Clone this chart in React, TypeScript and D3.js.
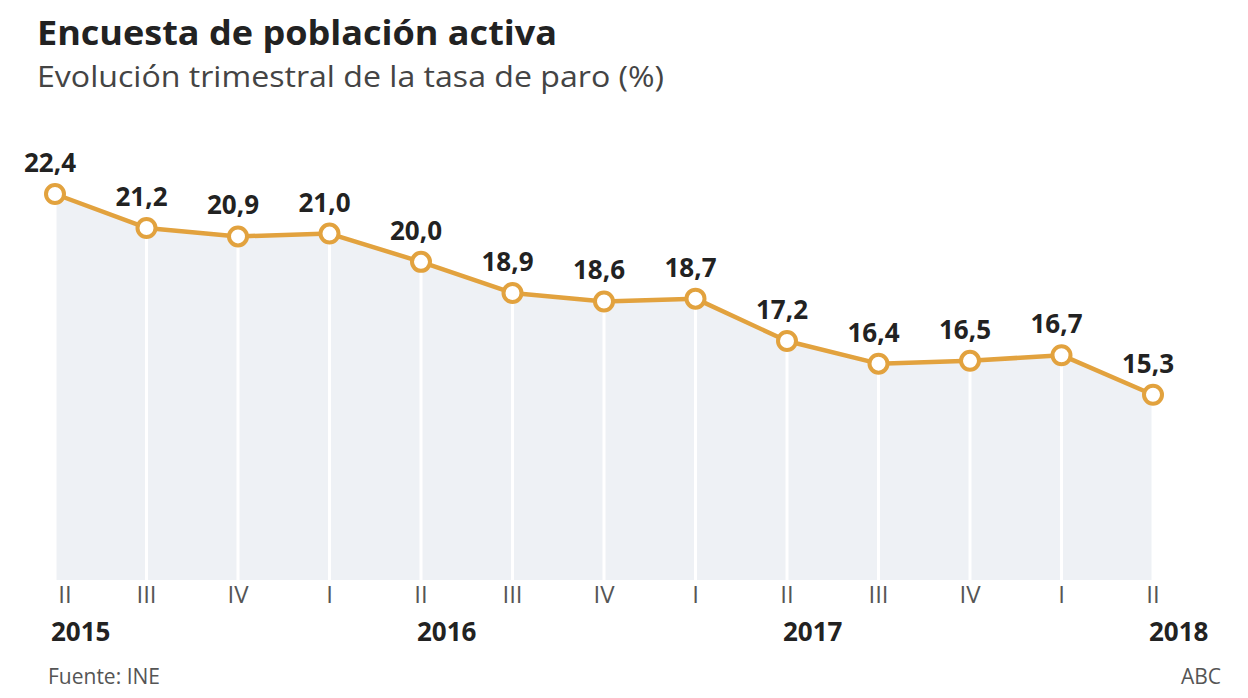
import React from "react";
import * as d3 from "d3";

const quarters = ["II", "III", "IV", "I", "II", "III", "IV", "I", "II", "III", "IV", "I", "II"];
const values = [22.4, 21.2, 20.9, 21.0, 20.0, 18.9, 18.6, 18.7, 17.2, 16.4, 16.5, 16.7, 15.3];
const years = [
  { label: "2015", index: 0 },
  { label: "2016", index: 4 },
  { label: "2017", index: 8 },
  { label: "2018", index: 12 },
];

const W = 1248;
const H = 698;
const FONT = "'Open Sans', 'Noto Sans', sans-serif";
const LINE = "#e2a23e";

export default function App() {
  const x = d3.scaleLinear().domain([0, quarters.length - 1]).range([55, 1153]);
  const y = d3.scaleLinear().domain([8.75, 22.4]).range([580, 194]);
  const data = values.map((v, i) => ({ v, i }));
  const line = d3.line<{ v: number; i: number }>().x((d) => x(d.i)).y((d) => y(d.v));
  const area = d3
    .area<{ v: number; i: number }>()
    .x((d) => x(d.i))
    .y0(y(8.75))
    .y1((d) => y(d.v));
  const fmt = (v: number) => v.toFixed(1).replace(".", ",");

  return (
    <svg width={W} height={H} style={{ position: "absolute", left: 0, top: 0, background: "#fff" }} fontFamily={FONT}>
      <text x={37} y={45} fontSize={34} fontWeight={700} fill="#222" textLength={520} lengthAdjust="spacingAndGlyphs">
        Encuesta de población activa
      </text>
      <text x={37} y={86.5} fontSize={29.5} fill="#444" textLength={627} lengthAdjust="spacingAndGlyphs">
        Evolución trimestral de la tasa de paro (%)
      </text>

      <path d={area(data) || ""} fill="#eef1f5" />
      {data.map((d) => (
        <line key={"g" + d.i} x1={x(d.i)} x2={x(d.i)} y1={y(d.v)} y2={y(8.75)} stroke="#fff" strokeWidth={3} />
      ))}
      <path d={line(data) || ""} fill="none" stroke={LINE} strokeWidth={4.5} strokeLinejoin="round" />
      {data.map((d) => (
        <circle key={"c" + d.i} cx={x(d.i)} cy={y(d.v)} r={9} fill="#fff" stroke={LINE} strokeWidth={4} />
      ))}
      {data.map((d) => (
        <text key={"l" + d.i} x={x(d.i) - 5} y={y(d.v) - 22} textAnchor="middle" fontSize={26} fontWeight={700} fill="#222">
          {fmt(d.v)}
        </text>
      ))}
      {quarters.map((q, i) => (
        <text key={"q" + i} x={x(i) + (i === 0 ? 10 : 0)} y={603} textAnchor="middle" fontSize={24} fill="#555">
          {q}
        </text>
      ))}
      {years.map((yr) => (
        <text key={yr.label} x={x(yr.index) - 4} y={641} fontSize={26} fontWeight={700} fill="#222">
          {yr.label}
        </text>
      ))}
      <text x={48} y={684} fontSize={21} fill="#555">Fuente: INE</text>
      <text x={1221} y={684} fontSize={21} fill="#555" textAnchor="end">ABC</text>
    </svg>
  );
}
